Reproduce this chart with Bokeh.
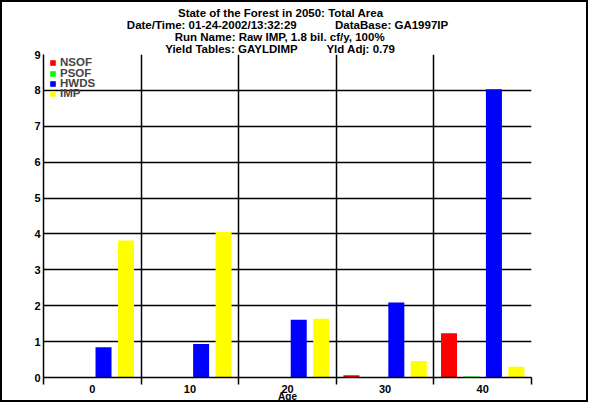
from bokeh.plotting import figure
from bokeh.models import Range1d, FixedTicker, Legend, LegendItem, ColumnDataSource, Title
from bokeh.transform import dodge
from bokeh.core.properties import value
from bokeh.embed import file_html
from bokeh.resources import INLINE

# ---- data ----
ages = ["0", "10", "20", "30", "40"]
nsof = [0.0, 0.0, 0.0, 0.06, 1.23]
psof = [0.0, 0.0, 0.0, 0.0, 0.03]
hwds = [0.84, 0.93, 1.61, 2.09, 8.03]
imp = [3.82, 4.06, 1.64, 0.46, 0.30]
series_names = ["NSOF", "PSOF", "HWDS", "IMP"]
series_colors = ["#ff0000", "#00ff00", "#0000ff", "#ffff00"]
y_ticks = list(range(10))
NB = "\u00a0"
title_lines = [
    "State of the Forest in 2050: Total Area",
    "Date/Time: 01-24-2002/13:32:29" + NB * 12 + "DataBase: GA1997IP",
    "Run Name: Raw IMP, 1.8 bil. cf/y, 100%",
    "Yield Tables: GAYLDIMP" + NB * 9 + "Yld Adj: 0.79",
]
# leading non-breaking spaces that centre each line inside the title block
title_indent = [16, 0, 15, 12]
x_label = "Age"

FONT = "Liberation Sans"

src = ColumnDataSource(dict(
    x=list(range(len(ages))),
    s_nsof=nsof, s_psof=psof, s_hwds=hwds, s_imp=imp,
))
cols = ["s_nsof", "s_psof", "s_hwds", "s_imp"]

p = figure(
    width=588, height=402,
    x_range=Range1d(-0.5, len(ages) - 0.5),
    y_range=Range1d(0, 9),
    output_backend="svg", toolbar_location=None,
    min_border_left=41, min_border_right=59,
    min_border_top=52, min_border_bottom=26,
    background_fill_color="white", border_fill_color="white",
    outline_line_color=None,
)
p.styles = {"border": "2px solid black"}

offsets = [-0.345, -0.115, 0.115, 0.345]
renderers = []
for col, color, off in zip(cols, series_colors, offsets):
    r = p.vbar(x=dodge("x", off), top=col, width=0.164, source=src,
               fill_color=color, line_color=None)
    renderers.append(r)

# x axis
xa = p.xaxis[0]
xa.ticker = FixedTicker(ticks=list(range(len(ages))),
                        minor_ticks=[i - 0.5 for i in range(len(ages) + 1)])
xa.major_label_overrides = {i: a for i, a in enumerate(ages)}
xa.major_tick_out = 0
xa.major_tick_in = 0
xa.minor_tick_out = 7
xa.minor_tick_in = 0
xa.minor_tick_line_color = "black"
xa.minor_tick_line_width = 1.5
xa.axis_line_color = "black"
xa.axis_line_width = 1.5
xa.major_label_standoff = 0
xa.major_label_text_font = FONT
xa.major_label_text_font_style = "bold"
xa.major_label_text_font_size = "11px"
xa.major_label_text_color = "black"
xa.axis_label = x_label
xa.axis_label_standoff = -5
xa.axis_label_text_font = FONT
xa.axis_label_text_font_style = "bold"
xa.axis_label_text_font_size = "10px"
xa.axis_label_text_color = "black"

# y axis
ya = p.yaxis[0]
ya.ticker = FixedTicker(ticks=y_ticks)
ya.major_tick_out = 0
ya.major_tick_in = 0
ya.minor_tick_out = 0
ya.minor_tick_in = 0
ya.axis_line_color = "black"
ya.axis_line_width = 1.5
ya.major_label_standoff = 3
ya.major_label_text_font = FONT
ya.major_label_text_font_style = "bold"
ya.major_label_text_font_size = "11px"
ya.major_label_text_color = "black"

# grids
p.xgrid.grid_line_color = None
p.xgrid.minor_grid_line_color = "black"
p.xgrid.minor_grid_line_width = 1.5
p.ygrid.grid_line_color = "black"
p.ygrid.grid_line_width = 1.5

# legend: one compact entry per series, stacked tightly as in the original
legend_rows_vy = [309, 298, 288, 278]
for n, r, vy in zip(series_names, renderers, legend_rows_vy):
    lg = Legend(
        items=[LegendItem(label=value(n), renderers=[r])],
        location=(6, vy), orientation="vertical",
        glyph_width=7, glyph_height=7, label_standoff=4, label_height=10,
        spacing=0, padding=0, margin=0,
        border_line_color=None, background_fill_alpha=0,
        label_text_font=FONT, label_text_font_style="bold", label_text_font_size="11.5px",
    )
    p.add_layout(lg)

# title block: four centred lines
title_text = "\n".join(NB * k + t for k, t in zip(title_indent, title_lines))
p.add_layout(Title(text=title_text, align="center", standoff=0,
                   text_font=FONT, text_font_style="bold", text_font_size="11.5px",
                   text_line_height=1.0, text_color="black"), "above")

open("out.html", "w").write(file_html(p, INLINE))
